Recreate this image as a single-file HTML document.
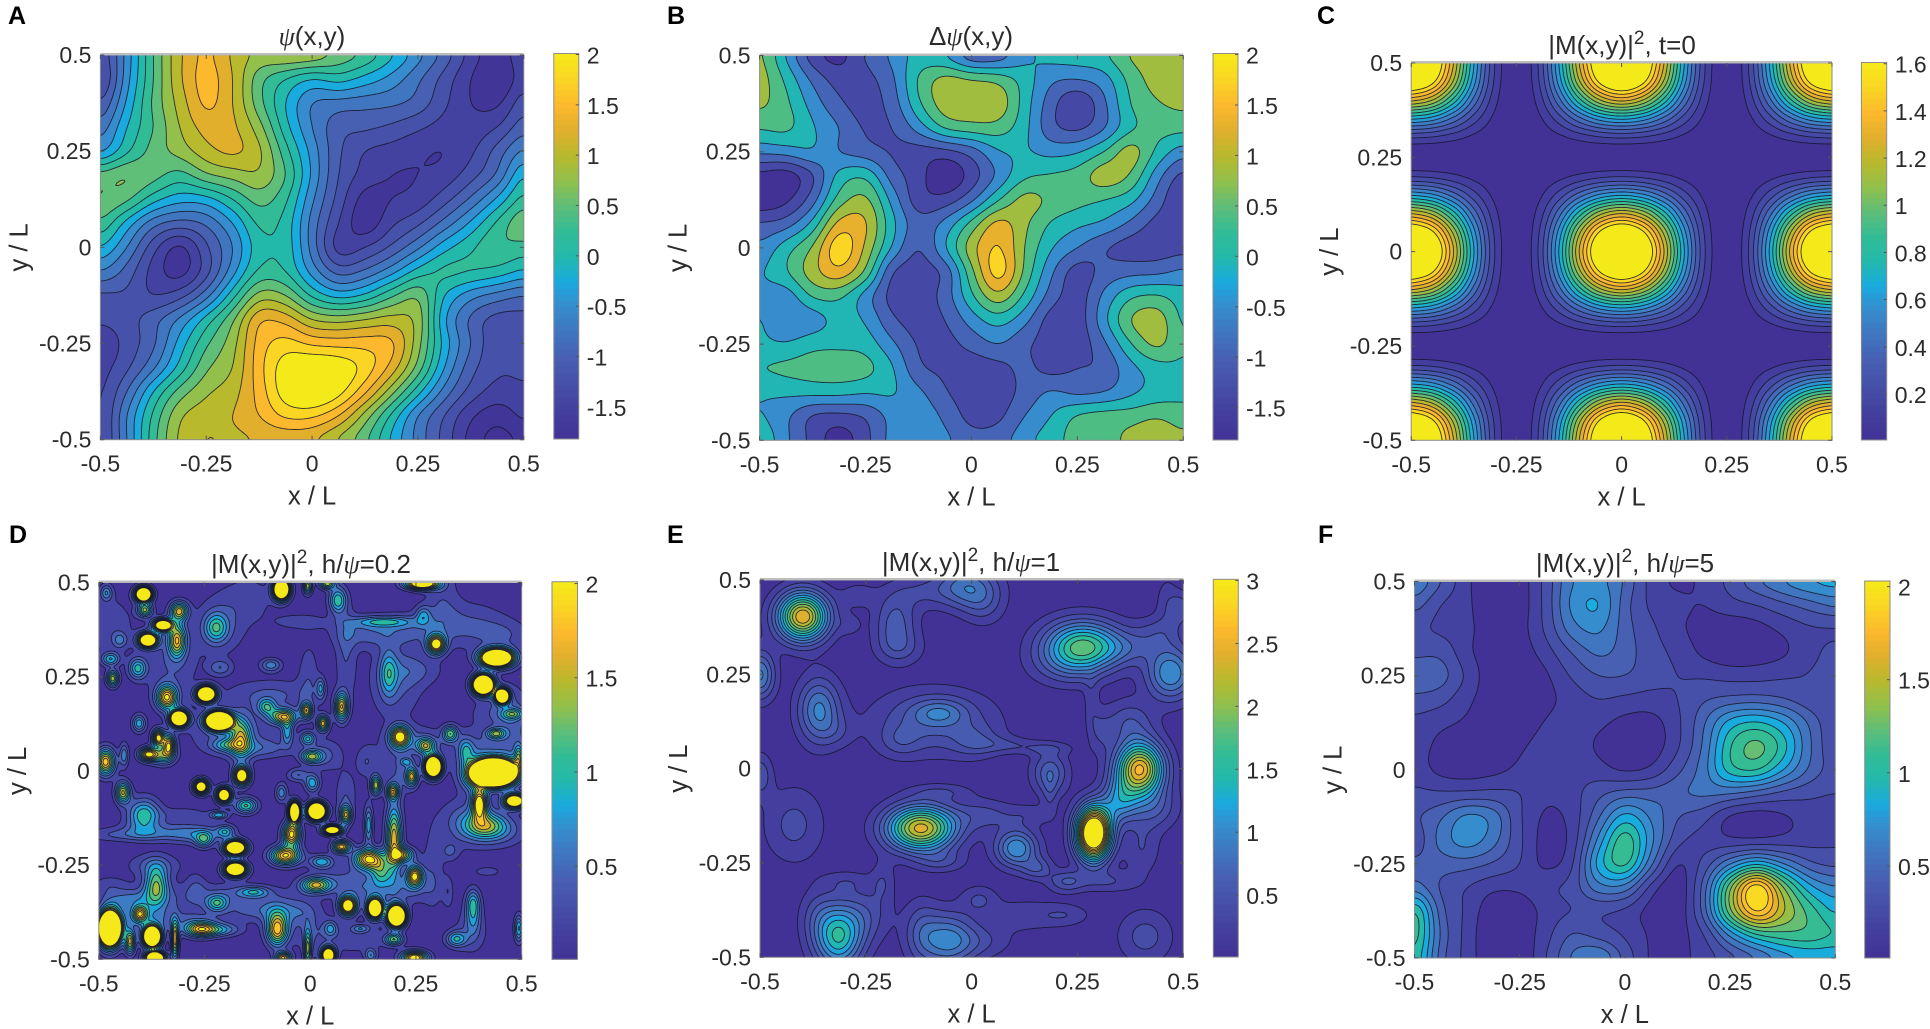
<!DOCTYPE html>
<html lang="en">
<head>
<meta charset="utf-8">
<title>Contour maps of psi and |M|^2</title>
<style>
html,body{margin:0;padding:0;background:#fff;width:1930px;height:1029px;overflow:hidden}
svg{display:block}
text{font-family:"Liberation Sans",Arial,sans-serif;fill:#2b2b2b}
.tick{font-size:23px}
.axl{font-size:25.5px}
.ttl{font-size:26px}
.psi{font-family:"Liberation Serif",serif;font-style:italic}
.let{font-size:25px;font-weight:bold;fill:#000}
</style>
</head>
<body>
<svg id="fig" xmlns="http://www.w3.org/2000/svg" width="1930" height="1029" viewBox="0 0 1930 1029">
<rect width="1930" height="1029" fill="#fff"/>
<text class="let" x="8" y="24">A</text>
<text class="let" x="667" y="24">B</text>
<text class="let" x="1317" y="24">C</text>
<text class="let" x="9" y="543">D</text>
<text class="let" x="667" y="543">E</text>
<text class="let" x="1318" y="543">F</text>
<text class="ttl" x="312" y="45" text-anchor="middle"><tspan class="psi">&#968;</tspan>(x,y)</text>
<text class="ttl" x="971" y="45" text-anchor="middle">&#916;<tspan class="psi">&#968;</tspan>(x,y)</text>
<text class="ttl" x="1622" y="54" text-anchor="middle">|M(x,y)|<tspan dy="-10" font-size="19">2</tspan><tspan dy="10">, t=0</tspan></text>
<text class="ttl" x="311" y="573" text-anchor="middle">|M(x,y)|<tspan dy="-10" font-size="19">2</tspan><tspan dy="10">, h/</tspan><tspan class="psi">&#968;</tspan>=0.2</text>
<text class="ttl" x="971" y="571" text-anchor="middle">|M(x,y)|<tspan dy="-10" font-size="19">2</tspan><tspan dy="10">, h/</tspan><tspan class="psi">&#968;</tspan>=1</text>
<text class="ttl" x="1625" y="572" text-anchor="middle">|M(x,y)|<tspan dy="-10" font-size="19">2</tspan><tspan dy="10">, h/</tspan><tspan class="psi">&#968;</tspan>=5</text>
</svg>
<script>
/* ---------- axis data ---------- */
var xTickValues = [-0.5, -0.25, 0, 0.25, 0.5];
var xTickLabels = ['-0.5', '-0.25', '0', '0.25', '0.5'];
var yTickValues = [-0.5, -0.25, 0, 0.25, 0.5];
var yTickLabels = ['-0.5', '-0.25', '0', '0.25', '0.5'];
var cbTicksPsi = [-1.5, -1, -0.5, 0, 0.5, 1, 1.5, 2];
var cbLabelsPsi = ['-1.5', '-1', '-0.5', '0', '0.5', '1', '1.5', '2'];
var cbTicksC = [0.2, 0.4, 0.6, 0.8, 1, 1.2, 1.4, 1.6];
var cbLabelsC = ['0.2', '0.4', '0.6', '0.8', '1', '1.2', '1.4', '1.6'];
var cbTicksD = [0.5, 1, 1.5, 2];
var cbLabelsD = ['0.5', '1', '1.5', '2'];
var cbTicksE = [0.5, 1, 1.5, 2, 2.5, 3];
var cbLabelsE = ['0.5', '1', '1.5', '2', '2.5', '3'];
var levelsA = [-1.75,-1.5,-1.25,-1,-0.75,-0.5,-0.25,0,0.25,0.5,0.75,1,1.25,1.5,1.75,2];
var levelsB = [-1.4,-0.95,-0.5,-0.05,0.4,0.85,1.3,1.75];
var levelsC = [0.1,0.2,0.3,0.4,0.5,0.6,0.7,0.8,0.9,1,1.1,1.2,1.3,1.4,1.5,1.6];
var levelsD = [0.2,0.4,0.6,0.8,1,1.2,1.4,1.6,1.8,2];
var levelsE = [0.2,0.4,0.6,0.8,1,1.2,1.4,1.6,1.8,2,2.2,2.4,2.6,2.8,3];
var levelsF = [0.17,0.3,0.44,0.57,0.71,0.84,0.98,1.11,1.25,1.38,1.52,1.65,1.79,1.92];

/* ---------- field values (row 0 is y=+0.5, col 0 is x=-0.5) ---------- */
var psiGrid = [
[-1.2,-.4,.5,1.2,1.55,1.2,.95,1,.95,.7,.45,.05,-.4,-.85,-1.35,-1.65,-1.3],
[-1.3,-.35,.5,1.2,1.6,1.25,.6,.25,0,.1,-.1,-.35,-.7,-1.1,-1.5,-1.75,-1.35],
[-1,-.2,.55,1.1,1.55,1.25,.6,0,-.5,-.6,-.65,-.7,-.85,-1.2,-1.5,-1.55,-1.1],
[-.65,0,.5,1,1.35,1.3,.85,.1,-.5,-.9,-.95,-1.05,-1.2,-1.35,-1.4,-1.25,-.85],
[-.3,.2,.6,.85,1.15,1.3,1.05,.35,-.35,-.95,-1.25,-1.35,-1.45,-1.5,-1.3,-.9,-.45],
[.6,.75,.6,.4,.7,.85,.95,.5,-.3,-1,-1.35,-1.5,-1.5,-1.4,-1.1,-.7,0],
[.75,.55,.1,-.15,-.1,.25,.6,.3,-.45,-1.1,-1.6,-1.5,-1.4,-1.1,-.7,-.2,.35],
[.45,-.1,-.65,-.85,-.7,-.25,.3,.15,-.6,-1.25,-1.65,-1.3,-1.05,-.65,-.2,.3,.7],
[0,-.5,-1.15,-1.55,-1.05,-.5,.15,.15,-.6,-1.35,-1.25,-.95,-.55,-.1,.2,.45,.4],
[-.5,-.85,-1.35,-1.6,-1.1,-.35,.3,.25,-.35,-.85,-.7,-.35,.1,.3,.25,.15,-.05],
[-1.05,-1.05,-1.25,-1.1,-.6,.15,.85,.75,.2,-.1,.05,.45,.7,0,-.4,-.6,-.75],
[-1.2,-1.1,-.85,-.45,.1,.7,1.45,1.4,1,.9,1,1.1,.9,-.2,-.8,-1.1,-1.1],
[-1.45,-1.15,-.8,-.15,.45,.9,1.6,1.85,1.7,1.65,1.65,1.55,.85,-.1,-.75,-1.2,-1.2],
[-1.35,-1.05,-.55,.1,.7,1,1.65,2.15,2.3,2.2,1.9,1.4,.65,-.25,-.9,-1.2,-1.2],
[-1.3,-.75,0,.6,.95,1.15,1.6,2.15,2.35,2.1,1.55,.85,.1,-.6,-1.1,-1.35,-1.3],
[-1.3,-.5,.3,.95,1.15,1.25,1.5,1.8,1.8,1.5,.9,.2,-.5,-1,-1.45,-1.65,-1.45],
[-1.3,-.5,.4,1.05,1.26,1.2,1.26,1.3,1.26,.95,.55,-.05,-.6,-1.1,-1.6,-1.85,-1.7]
];
var lapGrid = [
[.95,-.1,-1.2,-1.55,-.9,-.4,.1,-.1,-.85,-.8,-.2,.1,.2,.35,.9,1.15,1.15],
[1.05,.3,-.6,-1.15,-1.1,-.6,.45,1,.85,.7,.2,-.4,-.5,-.25,.55,1.05,1.15],
[.95,.5,-.25,-.85,-1.15,-.75,.3,1.1,1.2,1.15,.2,-.75,-1.35,-.6,.4,.8,.95],
[.45,.5,0,-.5,-1,-.95,-.3,.45,.65,.65,.1,-.8,-1.05,-.55,.3,.55,.55],
[-.4,-.3,-.1,-.5,-.75,-1,-1.15,-1.1,-.75,-.1,0,-.2,-.1,.4,1.05,.3,-.3],
[-1.55,-1.65,-1,.1,.3,-.7,-1.2,-1.8,-1.2,-.4,.3,.45,.6,1.1,.8,-.3,-1.1],
[-1.75,-1.5,-.7,.6,.95,-.2,-1.2,-1.2,-.6,.35,1,.75,.55,.4,.1,-.7,-1.45],
[-.9,-.7,.1,1.45,1.35,.1,-.75,-.35,.55,1.45,.95,.35,.05,-.15,-.6,-1.1,-1.1],
[-.4,.2,.9,2.05,1.2,-.1,-.95,-.1,1.1,1.8,.85,0,-.5,-.9,-1.15,-1.2,-1.1],
[-.1,.35,1.1,1.6,.75,-.9,-1.15,-.8,.7,1.95,.75,-.4,-1.15,-.8,-.65,-.6,-.4],
[-.15,-.3,.45,.5,-.25,-1.1,-1.2,-.75,.3,1.15,.3,-.7,-1.15,-.4,.3,.45,.15],
[0,-.5,-.3,.1,-.1,-.85,-1.15,-.95,-.3,.15,-.35,-1.15,-1.2,-.2,.85,1.1,.3],
[.05,0,.25,.3,.2,-.4,-1,-1.1,-.8,-.5,-.85,-1.15,-1.2,-.6,.35,.95,.4],
[.4,.5,.6,.65,.55,0,-.85,-1.05,-1.2,-1.1,-.85,-1.1,-.95,-.85,-.2,.2,.35],
[0,.05,.1,.1,0,0,-.4,-.9,-1.2,-1.2,-.8,-.45,-.6,-.5,-.15,.15,.3],
[0,-.4,-1,-1.1,-.9,-.35,-.2,-.6,-1.1,-1.05,-.5,-.05,.45,.6,.65,.8,.6],
[.35,-.4,-1.1,-1.65,-1.1,-.35,-.2,-.4,-.75,-.7,-.2,.2,.6,.65,1,1.25,1]
];
var cProfileX = [1,.9045,.6545,.3455,.0955,0,.0955,.3455,.6545,.9045,1,.9045,.6545,.3455,.0955,0,.0955,.3455,.6545,.9045,1];
var cProfileY = [1,.9045,.6545,.3455,.0955,0,.0955,.3455,.6545,.9045,1,.9045,.6545,.3455,.0955,0,.0955,.3455,.6545,.9045,1];
var cPeakValue = 2;
var fGrid = [
[.7,.45,.2,.05,.1,.35,.7,.75,.55,.25,.15,.2,.35,.55,.72,.85,.9],
[.5,.3,.2,.05,.1,.35,.75,.85,.5,.27,.2,.17,.25,.3,.4,.5,.6],
[.33,.27,.2,.1,.12,.33,.65,.74,.5,.33,.2,.12,.08,.12,.2,.28,.29],
[.4,.4,.2,.1,.1,.24,.45,.6,.5,.36,.26,.14,.08,.1,.15,.25,.35],
[.55,.5,.27,.08,.05,.15,.32,.44,.44,.36,.3,.28,.25,.25,.28,.31,.38],
[.4,.35,.2,.1,.06,.13,.23,.3,.27,.25,.3,.42,.48,.5,.45,.35,.3],
[.26,.2,.15,.1,.1,.18,.24,.2,.13,.12,.27,.55,.9,1,.85,.55,.32],
[.22,.14,.1,.08,.15,.22,.24,.15,.1,.1,.28,.6,1.1,1.3,1.05,.6,.33],
[.24,.13,.1,.13,.2,.24,.26,.22,.15,.2,.4,.65,1.05,1.12,.85,.55,.37],
[.33,.32,.33,.34,.3,.2,.25,.4,.5,.5,.55,.6,.58,.5,.4,.34,.3],
[.42,.55,.75,.65,.32,.15,.22,.55,.9,.68,.45,.35,.15,.1,.15,.22,.2],
[.35,.62,.78,.62,.33,.12,.22,.75,1.2,.75,.35,.25,.2,.2,.22,.25,.27],
[.48,.5,.5,.42,.3,.14,.28,.9,1.15,.6,.17,.35,.7,.95,.72,.48,.4],
[.65,.42,.3,.2,.2,.27,.36,.65,.65,.25,.08,.5,1.35,2.05,1.4,.9,.72],
[1.15,.5,.27,.08,.08,.22,.3,.32,.27,.12,.08,.5,1.35,1.95,1.55,1.2,.95],
[1.2,.55,.25,.06,.08,.25,.45,.38,.28,.15,.12,.3,.75,1.1,1.2,1.2,1.1],
[1.1,.5,.25,.05,.06,.3,.6,.72,.4,.15,.14,.22,.38,.55,.75,.85,.85]
];
/* peaks as [x, y, height, width-x, width-y] in axis units */
var ePeaks = [
[-.399,.403,2.55,.042,.045],[.262,.326,1.75,.064,.047],[.47,.253,1.15,.04,.05],[-.361,.155,1,.035,.06],
[-.076,.149,.5,.045,.025],[-.09,.125,.6,.1,.06],[.397,-.001,2.6,.04,.05],[-.12,-.158,2.45,.057,.042],
[.288,-.171,4.2,.028,.047],[.106,-.211,1.15,.035,.035],[-.315,-.445,1.55,.04,.06],[-.056,-.454,1,.045,.05],
[.41,-.445,.45,.045,.05],[.185,-.012,.7,.03,.04],[-.18,.385,.65,.035,.055],[-.012,.482,.85,.05,.04],
[-.42,-.149,.43,.05,.07],[-.5,.248,1,.025,.045],[.495,.425,.45,.02,.03],[-.5,-.017,.5,.02,.04],[.35,-.087,.9,.03,.04]
];
var eRidges = [
[-.268,.46,.25,.03,.025],[-.12,.469,.3,.05,.03],[.028,.434,.35,.035,.04],[-.287,.381,.22,.02,.02],[-.169,.319,.3,.04,.03],
[.224,.275,.35,.06,.04],[.372,.319,.35,.05,.03],[.461,.443,.25,.02,.05],[.441,.363,.35,.04,.03],[.283,.178,.25,.012,.05],
[.303,.098,.3,.02,.04],[.372,.125,.5,.04,.04],[.431,-.105,.5,.04,.04],[.402,-.211,.35,.03,.05],[.323,-.299,.35,.05,.02],
[.224,-.299,.55,.03,.02],[.126,-.388,.3,.07,.03],[.224,-.388,.25,.04,.02],[.018,-.344,.35,.03,.025],[.156,-.264,.5,.025,.02],
[-.12,-.432,.45,.03,.06],[.028,-.458,.3,.05,.03],[-.209,-.299,.3,.02,.04],[-.248,-.388,.4,.04,.05],[-.366,-.388,.3,.03,.05],
[-.297,-.299,.25,.04,.02],[-.071,-.246,.35,.04,.02],[.028,-.123,.4,.05,.03],[-.071,-.061,.3,.05,.015],[.136,-.123,.25,.04,.02],
[-.169,.072,.3,.035,.03],[.008,.072,.35,.04,.03],[.077,.063,.27,.05,.015],[.175,.054,.25,.05,.012],[.185,-.07,.25,.012,.04],[-.317,.098,.2,.03,.03]
];
var dStrongPeaks = [
[-.394,.469,5,.012,.012],[-.384,.347,4,.014,.012],[-.349,.387,3.5,.014,.01],[-.31,.139,5,.013,.013],[-.246,.204,5,.014,.013],
[-.216,.133,7,.018,.014],[-.474,-.418,7,.016,.028],[-.374,-.44,5.5,.013,.017],[-.367,-.496,5,.014,.01],[-.068,.482,5,.012,.017],
[.264,.497,3,.025,.01],[.441,.3,5,.024,.015],[.409,.229,6,.015,.016],[.454,.199,5,.01,.012],[.291,.011,5.5,.012,.017],
[.434,-.005,9,.03,.02],[.483,-.08,3.5,.016,.012],[.4,-.086,2.2,.012,.025],[.015,-.107,6,.013,.014],[-.037,-.108,5,.008,.016],
[.052,-.157,3.5,.014,.008],[-.162,-.013,3,.012,.016],[-.258,-.042,3.2,.011,.012],[-.204,-.064,3.5,.011,.013],[-.177,-.204,4.5,.016,.012],
[-.177,-.261,4.5,.016,.012],[.089,-.358,2.8,.013,.016],[.153,-.365,4.5,.011,.016],[.204,-.385,6,.013,.017],[.043,-.489,4,.01,.013],
[.247,-.496,2.3,.02,.012],[-.064,-.496,1.8,.012,.01]
];
var dMediumPeaks = [
[-.31,.424,1.6,.012,.014],[-.391,.427,1.4,.01,.01],[-.315,.347,1.6,.012,.025],[-.223,.38,.9,.016,.022],[-.482,.473,.7,.008,.012],
[-.45,.347,.5,.01,.012],[-.339,.195,1.9,.014,.018],[-.467,.245,1.5,.008,.012],[-.408,.272,1,.012,.016],[-.472,.297,.9,.012,.01],
[-.405,.126,.9,.009,.013],[-.359,.088,2.2,.008,.012],[-.334,.069,1.8,.008,.016],[-.384,.044,2,.012,.01],[-.349,.042,1.2,.016,.014],
[-.484,.024,1.9,.013,.02],[-.44,.042,.7,.006,.018],[-.443,-.057,1.6,.01,.016],[-.394,-.117,1.1,.022,.025],[-.152,-.092,1.2,.015,.012],
[-.216,-.117,.9,.012,.006],[-.164,.086,1.3,.014,.03],[-.197,.069,.7,.02,.01],[-.064,.144,1.6,.018,.012],[-.103,.17,.9,.012,.012],
[-.054,.104,.8,.008,.02],[-.009,.16,1.6,.008,.012],[.03,.126,1.7,.008,.012],[.074,.17,1.7,.009,.02],[.025,.219,.7,.006,.016],
[-.006,.086,.95,.01,.01],[.003,.038,1.3,.014,.01],[.005,-.033,.9,.01,.014],[-.029,-.011,.55,.014,.01],[-.068,-.058,.7,.008,.014],
[.084,-.117,1.5,.008,.014],[.138,-.144,.9,.006,.03],[.198,-.179,1.7,.011,.05],[.217,-.223,1.5,.016,.012],[-.044,-.168,2.1,.012,.018],
[-.059,-.225,2,.02,.014],[.074,-.201,1.9,.012,.01],[.138,-.234,2,.02,.016],[.168,-.267,.9,.014,.02],[.027,-.241,.9,.016,.01],
[.247,-.279,2,.011,.016],[-.251,-.183,.9,.012,.012],[-.201,-.161,.8,.012,.01],[-.364,-.303,1.25,.016,.03],[-.403,-.38,1.5,.01,.012],
[-.426,-.453,1.6,.007,.018],[-.32,-.449,1.7,.005,.028],[-.261,-.42,1.4,.02,.012],[-.221,-.422,.8,.03,.01],[-.221,-.351,.95,.014,.012],
[-.133,-.321,.7,.02,.008],[-.078,-.42,1.9,.015,.025],[.013,-.303,1.5,.02,.012],[-.006,-.475,1.3,.005,.03],[.048,-.418,.7,.009,.012],
[.119,-.418,.6,.012,.006],[.198,-.447,1.3,.012,.009],[.143,-.489,.7,.008,.01],[.345,-.446,.9,.014,.012],[.385,-.382,.65,.01,.03],
[.385,-.347,.6,.01,.02],[.493,-.418,1,.006,.02],[.298,.336,2.3,.012,.014],[.267,.413,.6,.01,.014],[.173,.396,.75,.04,.008],
[.185,.259,.75,.012,.035],[.212,.091,2.1,.013,.016],[.273,.067,1.3,.012,.012],[.331,.099,1.2,.01,.012],[.439,.099,1.2,.012,.008],
[.478,.151,.9,.014,.008],[.493,.038,1,.006,.018],[.155,-.038,1.5,.007,.014],[.195,-.055,1.5,.008,.012],[.24,-.015,1.5,.008,.014],
[.227,.024,.6,.008,.006],[.065,.453,1.1,.012,.02],[-.006,.491,1.5,.006,.012],[.04,.497,1.5,.01,.008],[-.093,.281,.7,.014,.01],
[-.213,.274,.5,.016,.012],[.368,.051,.7,.01,.02],[.38,-.029,.4,.016,.02],[.414,-.144,1.1,.028,.02]
];
var dWebPatches = [
[.133,.369,.45,.04,.02],[.084,.307,.35,.012,.06],[.252,.378,.35,.04,.02],[.38,.387,.35,.04,.03],[.311,.449,.3,.02,.04],
[.459,.36,.3,.03,.02],[-.211,.387,.35,.03,.04],[-.477,.387,.3,.03,.04],[-.33,.281,.35,.03,.05],[-.024,.396,.3,.03,.01],
[-.142,.458,.25,.03,.03],[-.093,.201,.4,.05,.02],[-.182,.104,.4,.05,.03],[-.123,.06,.4,.04,.012],[-.004,.254,.3,.012,.04],
[.202,.237,.4,.03,.05],[.252,.267,.3,.03,.02],[.133,.024,.35,.012,.02],[.035,.042,.4,.02,.02],[.084,-.064,.35,.012,.03],
[.4,.042,.5,.03,.03],[.37,-.135,.5,.03,.03],[.449,-.161,.4,.03,.02],[.478,.104,.4,.02,.06],[.439,.157,.3,.03,.02],
[.252,.077,.35,.04,.02],[.212,-.002,.35,.02,.03],[-.339,-.161,.4,.06,.012],[-.438,-.17,.3,.05,.008],[-.27,-.17,.4,.03,.012],
[-.3,-.117,.3,.03,.01],[-.369,-.25,.4,.03,.015],[-.359,-.338,.3,.05,.02],[-.27,-.312,.3,.012,.02],[-.182,-.329,.4,.04,.015],
[-.123,-.374,.3,.05,.012],[-.438,-.338,.35,.03,.012],[-.477,-.303,.25,.02,.012],[-.399,-.382,.4,.03,.02],[-.3,-.4,.35,.05,.015],
[-.083,-.356,.3,.03,.02],[.084,-.294,.4,.04,.02],[.153,-.321,.35,.03,.02],[.291,-.259,.3,.012,.05],[.232,-.312,.35,.03,.02],
[.331,-.214,.35,.01,.012],[.419,-.267,.3,.015,.006],[.326,-.321,.3,.006,.02],[-.024,-.374,.25,.02,.02],[.104,-.444,.3,.04,.02],
[0,-.427,.3,.02,.03],[.38,-.427,.3,.02,.03]
];
/* colormap stops sampled from the reference colorbar */
var cmapStops = [0, .084, .214, .345, .41, .475, .54, .606, .67, .737, .80, .867, .93, 1];
var cmapR = [66, 68, 72, 55, 25, 35, 50, 95, 145, 185, 225, 252, 250, 245];
var cmapG = [50, 66, 96, 140, 170, 185, 188, 190, 192, 185, 175, 185, 212, 235];
var cmapB = [150, 160, 178, 205, 222, 170, 150, 120, 75, 45, 45, 45, 35, 25];
var widthScaleStrong = 1.04;
var widthScaleMedium = 1.2;
var widthScaleWeb = 1.45;

/* ---------- field construction ---------- */
function catmull(p0, p1, p2, p3, t) {
  return 0.5 * (2 * p1 + (p2 - p0) * t + (2 * p0 - 5 * p1 + 4 * p2 - p3) * t * t + (3 * p1 - p0 - 3 * p2 + p3) * t * t * t);
}
function soften(out, nx, ny, r) {
  var W = nx + 1, H = ny + 1, tmp = new Float32Array(out.length), pass, i, j, k, s, n;
  for (pass = 0; pass < 2; pass++) {
    for (j = 0; j < H; j++) for (i = 0; i < W; i++) {
      s = 0; n = 0;
      for (k = -r; k <= r; k++) { if (i + k >= 0 && i + k < W) { s += out[j * W + i + k]; n++; } }
      tmp[j * W + i] = s / n;
    }
    for (j = 0; j < H; j++) for (i = 0; i < W; i++) {
      s = 0; n = 0;
      for (k = -r; k <= r; k++) { if (j + k >= 0 && j + k < H) { s += tmp[(j + k) * W + i]; n++; } }
      out[j * W + i] = s / n;
    }
  }
  return out;
}
function rasterFromGrid(grid, nx, ny) {
  var rows = grid.length, cols = grid[0].length, out = new Float32Array((nx + 1) * (ny + 1));
  function at(r, c) {
    r = Math.max(0, Math.min(rows - 1, r));
    c = Math.max(0, Math.min(cols - 1, c));
    return grid[r][c];
  }
  for (var j = 0; j <= ny; j++) {
    var v = j / ny * (rows - 1), r = Math.min(rows - 2, Math.floor(v)), tv = v - r;
    for (var i = 0; i <= nx; i++) {
      var u = i / nx * (cols - 1), c = Math.min(cols - 2, Math.floor(u)), tu = u - c, col = [];
      for (var k = -1; k <= 2; k++) {
        col.push(catmull(at(r + k, c - 1), at(r + k, c), at(r + k, c + 1), at(r + k, c + 2), tu));
      }
      out[j * (nx + 1) + i] = catmull(col[0], col[1], col[2], col[3], tv);
    }
  }
  return out;
}
function rasterFromPeaks(lists, scales, base, nx, ny) {
  var out = new Float32Array((nx + 1) * (ny + 1)).fill(base);
  lists.forEach(function (list, li) {
    var sc = scales[li];
    list.forEach(function (b) {
      var sx = b[3] * sc, sy = b[4] * sc;
      var i0 = Math.max(0, Math.floor((b[0] - 4 * sx + 0.5) * nx)), i1 = Math.min(nx, Math.ceil((b[0] + 4 * sx + 0.5) * nx));
      var j0 = Math.max(0, Math.floor((0.5 - b[1] - 4 * sy) * ny)), j1 = Math.min(ny, Math.ceil((0.5 - b[1] + 4 * sy) * ny));
      for (var j = j0; j <= j1; j++) {
        var dy = (0.5 - j / ny - b[1]) / sy;
        for (var i = i0; i <= i1; i++) {
          var dx = (i / nx - 0.5 - b[0]) / sx;
          out[j * (nx + 1) + i] += b[2] * Math.exp(-0.5 * (dx * dx + dy * dy));
        }
      }
    });
  });
  return out;
}
function separableGrid(px, py, peak) {
  return py.map(function (a) { return px.map(function (b) { return peak * a * b; }); });
}
function contourPaths(F, nx, ny, L, x0, y0, dx, dy) {
  var fill = [], line = [], W = nx + 1;
  function f(v) { return v.toFixed(1); }
  function seg(p, q) {
    line.push('M' + f(x0 + p[0] * dx) + ' ' + f(y0 + p[1] * dy) + 'L' + f(x0 + q[0] * dx) + ' ' + f(y0 + q[1] * dy));
  }
  for (var j = 0; j < ny; j++) {
    var runStart = -1;
    for (var i = 0; i < nx; i++) {
      var a = F[j * W + i], b = F[j * W + i + 1], c = F[(j + 1) * W + i + 1], d = F[(j + 1) * W + i];
      var all = a >= L && b >= L && c >= L && d >= L;
      if (all) { if (runStart < 0) runStart = i; continue; }
      if (runStart >= 0) {
        fill.push('M' + f(x0 + runStart * dx) + ' ' + f(y0 + j * dy) + 'H' + f(x0 + i * dx) + 'V' + f(y0 + (j + 1) * dy) + 'H' + f(x0 + runStart * dx) + 'Z');
        runStart = -1;
      }
      if (a < L && b < L && c < L && d < L) continue;
      var cx = [i, i + 1, i + 1, i], cy = [j, j, j + 1, j + 1], cv = [a, b, c, d], poly = [], cross = [];
      for (var k = 0; k < 4; k++) {
        var n = (k + 1) % 4;
        if (cv[k] >= L) poly.push([cx[k], cy[k]]);
        if ((cv[k] >= L) !== (cv[n] >= L)) {
          var t = (L - cv[k]) / (cv[n] - cv[k]);
          var pt = [cx[k] + (cx[n] - cx[k]) * t, cy[k] + (cy[n] - cy[k]) * t];
          poly.push(pt);
          cross.push(pt);
        }
      }
      fill.push('M' + poly.map(function (p) { return f(x0 + p[0] * dx) + ' ' + f(y0 + p[1] * dy); }).join('L') + 'Z');
      if (cross.length === 2) {
        seg(cross[0], cross[1]);
      } else if (cross.length === 4) {
        if ((a >= L) === ((a + b + c + d) / 4 >= L)) { seg(cross[0], cross[1]); seg(cross[2], cross[3]); }
        else { seg(cross[3], cross[0]); seg(cross[1], cross[2]); }
      }
    }
    if (runStart >= 0) {
      fill.push('M' + f(x0 + runStart * dx) + ' ' + f(y0 + j * dy) + 'H' + f(x0 + nx * dx) + 'V' + f(y0 + (j + 1) * dy) + 'H' + f(x0 + runStart * dx) + 'Z');
    }
  }
  return { fill: fill.join(''), line: line.join('') };
}

/* ---------- drawing ---------- */
var NS = 'http://www.w3.org/2000/svg';
var fig = document.getElementById('fig');
function mk(tag, parent, attrs) {
  var el = document.createElementNS(NS, tag);
  for (var k in attrs) el.setAttribute(k, attrs[k]);
  parent.appendChild(el);
  return el;
}
function cmap(t) {
  t = Math.max(0, Math.min(1, t));
  var i = 0;
  while (i < cmapStops.length - 2 && t > cmapStops[i + 1]) i++;
  var u = (t - cmapStops[i]) / (cmapStops[i + 1] - cmapStops[i]);
  return 'rgb(' + Math.round(cmapR[i] + (cmapR[i + 1] - cmapR[i]) * u) + ',' + Math.round(cmapG[i] + (cmapG[i + 1] - cmapG[i]) * u) + ',' + Math.round(cmapB[i] + (cmapB[i + 1] - cmapB[i]) * u) + ')';
}
var panels = [
  { id: 'a', left: 100.4, right: 523.8, top: 55, bottom: 439.7, cbL: 553.8, cbR: 578.8, cbT: 53.5, cbB: 439, cmin: -1.82, cmax: 2.01,
    levels: levelsA, cbTicks: cbTicksPsi, cbLabels: cbLabelsPsi, nx: 212, ny: 192, field: function (n, m) { return soften(rasterFromGrid(psiGrid, n, m), n, m, 2); } },
  { id: 'b', left: 759.6, right: 1183.3, top: 55.5, bottom: 440.3, cbL: 1213, cbR: 1238, cbT: 53.5, cbB: 440, cmin: -1.82, cmax: 2.01,
    levels: levelsB, cbTicks: cbTicksPsi, cbLabels: cbLabelsPsi, nx: 212, ny: 192, field: function (n, m) { return soften(rasterFromGrid(lapGrid, n, m), n, m, 2); } },
  { id: 'c', left: 1411.2, right: 1832, top: 63, bottom: 440.3, cbL: 1861.4, cbR: 1886.7, cbT: 62.5, cbB: 440, cmin: 0.005, cmax: 1.605,
    levels: levelsC, cbTicks: cbTicksC, cbLabels: cbLabelsC, nx: 280, ny: 252, field: function (n, m) { return rasterFromGrid(separableGrid(cProfileX, cProfileY, cPeakValue), n, m); } },
  { id: 'd', left: 98.8, right: 521.7, top: 582.5, bottom: 959.3, cbL: 552, cbR: 577.5, cbT: 581.7, cbB: 959.3, cmin: 0.005, cmax: 2.01,
    levels: levelsD, cbTicks: cbTicksD, cbLabels: cbLabelsD, nx: 320, ny: 286, field: function (n, m) { return rasterFromPeaks([dStrongPeaks, dMediumPeaks, dWebPatches], [widthScaleStrong, widthScaleMedium, widthScaleWeb], 0.04, n, m); } },
  { id: 'e', left: 760, right: 1183.3, top: 580, bottom: 957.3, cbL: 1213.3, cbR: 1238.3, cbT: 579.3, cbB: 957, cmin: 0.008, cmax: 3.01,
    levels: levelsE, cbTicks: cbTicksE, cbLabels: cbLabelsE, nx: 240, ny: 216, field: function (n, m) { return rasterFromPeaks([ePeaks, eRidges], [1, 1], 0.04, n, m); } },
  { id: 'f', left: 1414.5, right: 1835.3, top: 581.5, bottom: 958, cbL: 1864.7, cbR: 1890, cbT: 581, cbB: 958, cmin: 0.005, cmax: 2.03,
    levels: levelsF, cbTicks: cbTicksD, cbLabels: cbLabelsD, nx: 212, ny: 192, field: function (n, m) { return soften(rasterFromGrid(fGrid, n, m), n, m, 2); } }
];
panels.forEach(function (p) {
  var w = p.right - p.left, h = p.bottom - p.top;
  function xs(v) { return p.left + (v + 0.5) * w; }
  function ys(v) { return p.top + (0.5 - v) * h; }
  function cs(v) { return p.cbB - (v - p.cmin) / (p.cmax - p.cmin) * (p.cbB - p.cbT); }
  function col(v) { return cmap((v - p.cmin) / (p.cmax - p.cmin)); }

  var g = mk('g', fig, {});
  
  

  var base = mk('rect', g, { x: p.left, y: p.top, width: w, height: h, fill: col(p.cmin) });
  
  

  var F = p.field(p.nx, p.ny);
  var results = p.levels.map(function (L) { return contourPaths(F, p.nx, p.ny, L, p.left, p.top, w / p.nx, h / p.ny); });
  results.forEach(function (r, i) {
    var band = mk('path', g, { d: r.fill, fill: col(p.levels[i]), 'fill-rule': 'nonzero' });
    
    
  });
  results.forEach(function (r) {
    var iso = mk('path', g, { d: r.line, fill: 'none', stroke: '#15152a', 'stroke-width': 0.9, 'stroke-opacity': 0.85, 'stroke-linecap': 'round' });
    
    
  });

  var box = mk('rect', g, { x: p.left, y: p.top, width: w, height: h, fill: 'none', stroke: '#8c8c8c', 'stroke-width': 1 });
  
  
  var topBar = mk('line', g, { x1: p.left, x2: p.right, y1: p.top - 0.8, y2: p.top - 0.8, stroke: '#bdbdbd', 'stroke-width': 2.4 });
  
  

  xTickValues.forEach(function (v, i) {
    var t = mk('path', g, { d: 'M' + xs(v) + ' ' + p.bottom + 'v-4M' + xs(v) + ' ' + p.top + 'v4', stroke: '#555', 'stroke-width': 1, fill: 'none' });
    
    
    var lab = mk('text', g, { x: xs(v), y: p.bottom + 32, 'text-anchor': 'middle', 'class': 'tick' });
    lab.textContent = xTickLabels[i];
    
    
  });
  yTickValues.forEach(function (v, i) {
    var t = mk('path', g, { d: 'M' + p.left + ' ' + ys(v) + 'h4M' + p.right + ' ' + ys(v) + 'h-4', stroke: '#555', 'stroke-width': 1, fill: 'none' });
    
    
    var lab = mk('text', g, { x: p.left - 9, y: ys(v) + 8, 'text-anchor': 'end', 'class': 'tick' });
    lab.textContent = yTickLabels[i];
    
    
  });

  var xl = mk('text', g, { x: (p.left + p.right) / 2, y: p.bottom + 65, 'text-anchor': 'middle', 'class': 'axl' });
  xl.textContent = 'x / L';
  
  
  var yx = p.left - 73, yy = (p.top + p.bottom) / 2;
  var yl = mk('text', g, { x: yx, y: yy, 'text-anchor': 'middle', 'class': 'axl', transform: 'rotate(-90 ' + yx + ' ' + yy + ')' });
  yl.textContent = 'y / L';
  
  

  var cb = mk('g', g, {});
  
  
  var sh = (p.cbB - p.cbT) / 64;
  for (var si = 0; si < 64; si++) {
    var s = mk('rect', cb, { x: p.cbL, y: p.cbB - (si + 1) * sh, width: p.cbR - p.cbL, height: sh + 0.5, fill: cmap((si + 0.5) / 64) });
    
    
  }
  var cbBox = mk('rect', cb, { x: p.cbL, y: p.cbT, width: p.cbR - p.cbL, height: p.cbB - p.cbT, fill: 'none', stroke: '#8c8c8c', 'stroke-width': 1 });
  
  
  p.cbTicks.forEach(function (v, i) {
    var t = mk('line', cb, { x1: p.cbR, x2: p.cbR - 3, y1: cs(v), y2: cs(v), stroke: '#555', 'stroke-width': 1 });
    
    
    var lab = mk('text', cb, { x: p.cbR + 8, y: cs(v) + 9, 'class': 'tick' });
    lab.textContent = p.cbLabels[i];
    
    
  });
});
</script>
</body>
</html>
